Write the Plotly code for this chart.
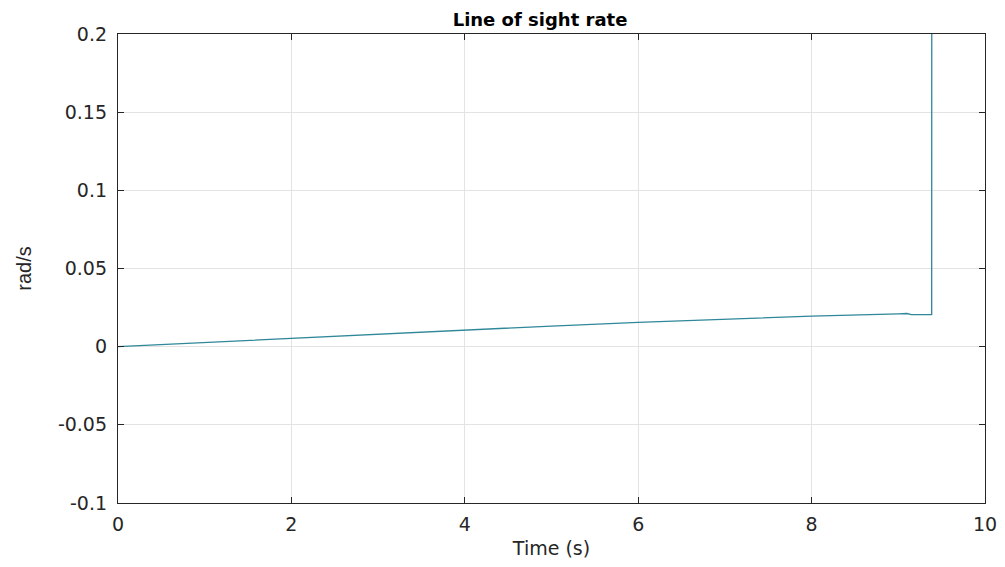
import plotly.graph_objects as go

time_s = [0, 1, 2, 3, 4, 5, 6, 7, 8, 9, 9.1, 9.15, 9.385, 9.39]
los_rate = [0, 0.0027, 0.0054, 0.0081, 0.0107, 0.0132, 0.0155, 0.0177, 0.0196, 0.0210, 0.0212, 0.0205, 0.0205, 1.0]

x_ticks = [0, 2, 4, 6, 8, 10]
y_ticks = [-0.1, -0.05, 0, 0.05, 0.1, 0.15, 0.2]
y_tick_text = ["-0.1", "-0.05", "0", "0.05", "0.1", "0.15", "0.2"]

TXT = "#262626"
FONT = "DejaVu Sans, Liberation Sans, Arial"

fig = go.Figure()
fig.add_trace(go.Scatter(x=time_s, y=los_rate, mode="lines",
                         line=dict(color="#2f8799", width=1.3), showlegend=False))

axis_common = dict(showline=True, linecolor=TXT, linewidth=1.3, mirror="ticks",
                   ticks="inside", ticklen=6, tickcolor=TXT, automargin=False,
                   ticklabeloverflow="allow",
                   showgrid=True, gridcolor="#e3e3e3", gridwidth=1, zeroline=False,
                   tickfont=dict(family=FONT, size=19, color=TXT))

fig.update_xaxes(range=[0, 10], tickvals=x_ticks, ticklabelstandoff=4,
                 title=dict(text="Time (s)", font=dict(family=FONT, size=19, color=TXT), standoff=7),
                 **axis_common)
fig.update_yaxes(range=[-0.1, 0.2], tickvals=y_ticks, ticktext=y_tick_text, ticklabelstandoff=6,
                 title=dict(text="rad/s", font=dict(family="Liberation Sans Narrow, Liberation Sans, Arial", size=20, color=TXT), standoff=20),
                 **axis_common)

fig.update_layout(
    width=989, height=551,
    margin=dict(l=110, r=12, t=26, b=56),
    plot_bgcolor="white", paper_bgcolor="white",
    title=dict(text="<b>Line of sight rate</b>", x=(540 - 8) / 989, xanchor="center", xref="container",
               y=1 - 12 / 551, yref="container", yanchor="middle",
               font=dict(family=FONT, size=18, color="black")),
)

fig.write_html("out.html")
